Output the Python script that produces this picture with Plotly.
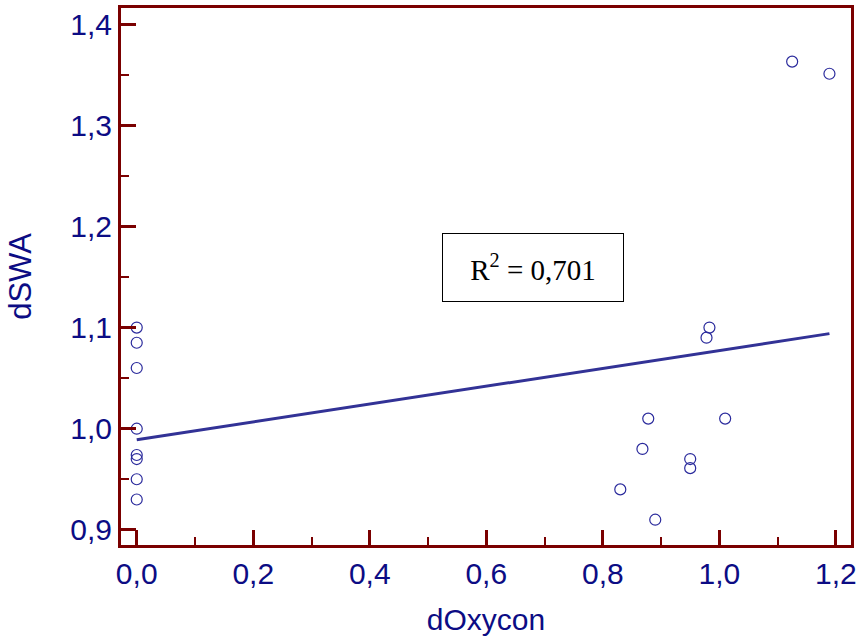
import plotly.graph_objects as go

# data
x_zero = [0.0, 0.0, 0.0, 0.0, 0.0, 0.0, 0.0, 0.0]
y_zero = [1.100, 1.085, 1.060, 1.000, 0.974, 0.970, 0.950, 0.930]
x_pos = [0.983, 0.978, 0.878, 1.010, 0.868, 0.950, 0.950, 0.830, 0.890, 1.125, 1.189]
y_pos = [1.100, 1.090, 1.010, 1.010, 0.980, 0.970, 0.961, 0.940, 0.910, 1.363, 1.351]
fit_x = [0.0, 1.189]
fit_y = [0.989, 1.094]
r2_text = "R<sup>2</sup> = 0,701"
x_title = "dOxycon"
y_title = "dSWA"

spine = "#7a0000"
navy = "#0c0c84"
mark = "#2a2a9c"

fig = go.Figure()
fig.add_trace(go.Scatter(x=x_zero + x_pos, y=y_zero + y_pos, mode="markers",
                         marker=dict(symbol="circle-open", size=11, color=mark,
                                     line=dict(width=1.2, color=mark)),
                         showlegend=False))
fig.add_trace(go.Scatter(x=fit_x, y=fit_y, mode="lines",
                         line=dict(color="#323296", width=3), showlegend=False))

fig.add_annotation(x=0.680, y=1.1596, xref="x", yref="y", text=r2_text,
                   showarrow=False, font=dict(family="Liberation Serif", size=29, color="black"),
                   bordercolor="black", borderwidth=1, borderpad=2, width=176, height=63,
                   bgcolor="white")

axis_common = dict(showline=True, linecolor=spine, linewidth=3, mirror=True,
                   ticks="inside", ticklen=15, tickwidth=3, tickcolor=spine,
                   showgrid=False, zeroline=False, tickformat=".1f",
                   tickfont=dict(family="Liberation Sans", size=30, color=navy))

fig.update_xaxes(range=[-0.027, 1.226], tick0=0, dtick=0.2,
                 minor=dict(ticks="inside", ticklen=8, tickwidth=2, tickcolor=spine, dtick=0.1, tick0=0),
                 title=dict(text=x_title, standoff=20,
                            font=dict(family="Liberation Sans", size=30, color=navy)),
                 **axis_common)
fig.update_yaxes(range=[0.885, 1.416], tick0=0.9, dtick=0.1,
                 minor=dict(ticks="inside", ticklen=8, tickwidth=2, tickcolor=spine, dtick=0.05, tick0=0.9),
                 title=dict(text=y_title, standoff=30,
                            font=dict(family="Liberation Sans", size=31, color=navy)),
                 **axis_common)

fig.update_layout(width=863, height=643, separators=", ",
                  margin=dict(l=121, r=12, t=8, b=98, autoexpand=False),
                  plot_bgcolor="white", paper_bgcolor="white")

fig.write_html("out.html", config={"displayModeBar": False},
               post_script="document.body.style.margin='0';")
